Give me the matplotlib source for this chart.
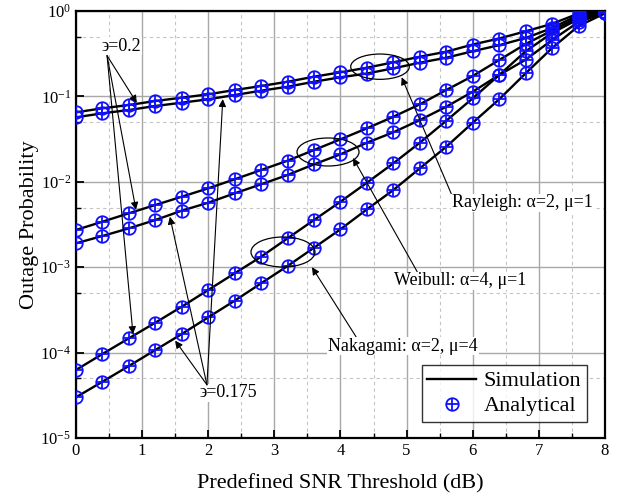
import matplotlib
matplotlib.use('Agg')
import matplotlib.pyplot as plt
from matplotlib.patches import Ellipse
from matplotlib.lines import Line2D
from matplotlib.legend_handler import HandlerTuple
from matplotlib.ticker import MultipleLocator, LogLocator, NullFormatter, LogFormatterMathtext

plt.rcParams['font.family'] = ['Liberation Serif', 'DejaVu Serif']
plt.rcParams['mathtext.fontset'] = 'stix'

# ---------------- data ----------------
snr_db = [0.0, 0.4, 0.8, 1.2, 1.6, 2.0, 2.4, 2.8, 3.2, 3.6, 4.0,
          4.4, 4.8, 5.2, 5.6, 6.0, 6.4, 6.8, 7.2, 7.6, 8.0]

rayleigh_02 = [0.0651, 0.0726, 0.0793, 0.0883, 0.0966, 0.1058, 0.1188, 0.1323, 0.1486, 0.1701, 0.1915,
               0.2168, 0.2507, 0.2917, 0.3337, 0.4053, 0.4764, 0.5785, 0.7080, 0.935, 0.979]
rayleigh_0175 = [0.0569, 0.0634, 0.0693, 0.0772, 0.0844, 0.0925, 0.1038, 0.1166, 0.1298, 0.1486, 0.1674,
                 0.1854, 0.2133, 0.2481, 0.2839, 0.3383, 0.3978, 0.4829, 0.6325, 0.898, 0.973]
weibull_02 = [0.00273, 0.00341, 0.00428, 0.00535, 0.00669, 0.00839, 0.0107, 0.01374, 0.01767, 0.02357, 0.03146,
              0.04231, 0.0578, 0.0808, 0.1188, 0.1733, 0.2668, 0.4108, 0.591, 0.851, 0.966]
weibull_0175 = [0.001905, 0.00232, 0.00285, 0.00357, 0.00459, 0.00569, 0.00733, 0.00935, 0.01202, 0.01603, 0.0210,
                0.0287, 0.0380, 0.0529, 0.0757, 0.1135, 0.178, 0.269, 0.4575, 0.743, 0.953]
nakagami_02 = [6.26e-5, 9.63e-5, 1.47e-4, 2.24e-4, 3.45e-4, 5.41e-4, 8.48e-4, 1.327e-3, 2.18e-3, 3.57e-3, 5.85e-3,
               9.76e-3, 0.01647, 0.0287, 0.0519, 0.0950, 0.178, 0.3374, 0.5525, 0.806, 0.960]
nakagami_0175 = [3.0e-5, 4.56e-5, 6.97e-5, 1.072e-4, 1.651e-4, 2.59e-4, 4.05e-4, 6.48e-4, 1.033e-3, 1.692e-3, 2.78e-3,
                 4.76e-3, 8.02e-3, 0.01439, 0.02576, 0.0492, 0.0925, 0.1864, 0.3687, 0.6672, 0.940]

series = [rayleigh_02, rayleigh_0175, weibull_02, weibull_0175, nakagami_02, nakagami_0175]

# ---------------- figure ----------------
fig = plt.figure(figsize=(6.27, 4.98), dpi=100)
ax = fig.add_axes([0.1212, 0.1205, 0.8437, 0.8574])

for vals in series:
    ax.plot(snr_db, vals, color='black', lw=1.7, zorder=3)
    ax.plot(snr_db, vals, linestyle='none', marker='o', ms=9, mfc='none', mec='#1010ff', mew=1.3, zorder=4)
    ax.plot(snr_db, vals, linestyle='none', marker='+', ms=9, mec='#1010ff', mew=1.3, zorder=4)

ax.set_yscale('log')
ax.set_xlim(0, 8)
ax.set_ylim(1e-5, 1)
ax.xaxis.set_major_locator(MultipleLocator(1))
ax.xaxis.set_minor_locator(MultipleLocator(0.5))
ax.yaxis.set_major_locator(LogLocator(base=10, numticks=10))
ax.yaxis.set_minor_locator(LogLocator(base=10, subs=[5.0], numticks=10))
ax.yaxis.set_minor_formatter(NullFormatter())
ax.yaxis.set_major_formatter(LogFormatterMathtext())

ax.set_axisbelow(True)
ax.grid(which='major', color='#a8a8a8', lw=1.0, ls='-')
ax.grid(which='minor', color='#c4c4c4', lw=0.8, ls=(0, (3, 3)))

for s in ax.spines.values():
    s.set_linewidth(1.6)
ax.tick_params(which='major', direction='in', length=6, width=1.3, labelsize=12)
ax.tick_params(which='minor', direction='in', length=3.5, width=1.0)

ax.set_xlabel('Predefined SNR Threshold (dB)', fontsize=16, labelpad=11)
ax.set_ylabel('Outage Probability', fontsize=16, labelpad=1)

# ---------------- annotations ----------------
ap = dict(arrowstyle='-|>', color='black', lw=0.8, mutation_scale=11, shrinkA=0, shrinkB=0)
wbox = dict(facecolor='white', edgecolor='none', pad=0.6)

ax.text(0.68, 0.389, '\u03f6=0.2', fontsize=13, ha='center', va='center', bbox=wbox, zorder=6)
for head in [(0.92, 0.084), (0.907, 0.0047), (0.862, 1.65e-4)]:
    ax.annotate('', xy=head, xytext=(0.47, 0.30), arrowprops=ap, zorder=6)

ax.text(2.30, 3.37e-5, '\u03f6=0.175', fontsize=13, ha='center', va='center', bbox=wbox, zorder=6)
for head in [(2.22, 0.093), (1.42, 0.0039), (1.50, 1.38e-4)]:
    ax.annotate('', xy=head, xytext=(1.98, 4.2e-5), arrowprops=ap, zorder=6)

for cx, cy, w, h in [(0.5747, 0.8696, 0.1108, 0.0593),
                     (0.4764, 0.6698, 0.1172, 0.0656),
                     (0.3913, 0.4356, 0.1210, 0.0703)]:
    ax.add_patch(Ellipse((cx, cy), w, h, transform=ax.transAxes, fill=False,
                         edgecolor='black', lw=0.9, zorder=5))

labels = [('Rayleigh: \u03b1=2, \u03bc=1', (4.925, 0.1675), (6.745, 5.65e-3), (0.0, 1.0)),
          ('Weibull: \u03b1=4, \u03bc=1', (4.189, 0.019), (5.807, 6.9e-4), (0.18, 1.0)),
          ('Nakagami: \u03b1=2, \u03bc=4', (3.569, 1.0e-3), (4.945, 1.19e-4), (0.19, 1.0))]
for txt, head, pos, rp in labels:
    a = dict(ap)
    a['relpos'] = rp
    ax.annotate(txt, xy=head, xytext=pos, fontsize=13, ha='center', va='center',
                bbox=dict(facecolor='white', edgecolor='none', pad=0.5),
                arrowprops=a, zorder=6)

# ---------------- legend ----------------
h_sim = Line2D([], [], color='black', lw=1.7)
h_c = Line2D([], [], linestyle='none', marker='o', ms=9, mfc='none', mec='#1010ff', mew=1.3)
h_p = Line2D([], [], linestyle='none', marker='+', ms=9, mec='#1010ff', mew=1.3)
leg = ax.legend([h_sim, (h_c, h_p)], ['Simulation', 'Analytical'],
                handler_map={tuple: HandlerTuple(ndivide=1, pad=0)},
                loc='lower right', bbox_to_anchor=(0.966, 0.0375), borderaxespad=0,
                fontsize=16, frameon=True, fancybox=False, handlelength=2.2,
                handletextpad=0.35, borderpad=0.25, labelspacing=0.2)
leg.get_frame().set_edgecolor('black')
leg.get_frame().set_linewidth(1.0)
leg.set_zorder(7)

fig.savefig('out.png', dpi=100)
